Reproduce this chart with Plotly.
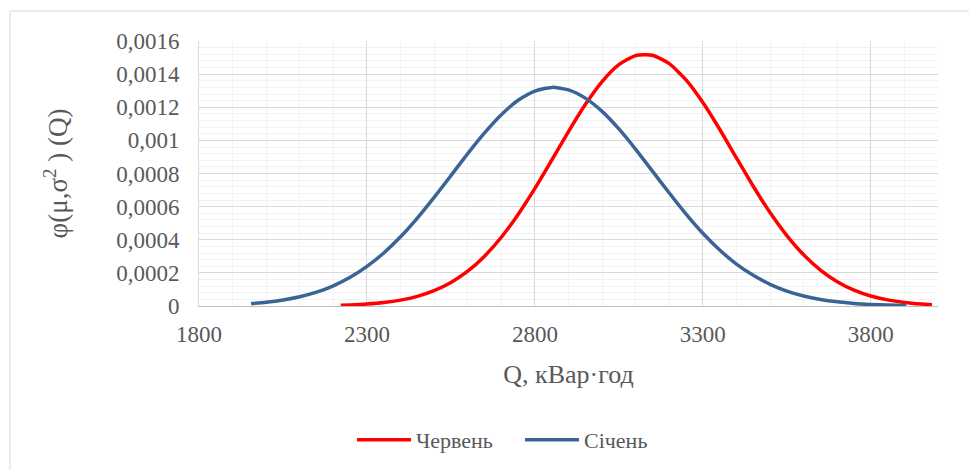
import plotly.graph_objects as go

# Червень (June) curve
red_q = [2222, 2250, 2300, 2350, 2400, 2450, 2500, 2550, 2600, 2650, 2700, 2750,
         2800, 2850, 2900, 2950, 3000, 3050, 3100, 3150, 3200, 3250, 3300, 3350,
         3400, 3450, 3500, 3550, 3600, 3650, 3700, 3750, 3800, 3850, 3900, 3950, 3982]
red_phi = [0.0000045, 0.0000064, 0.0000117, 0.0000207, 0.0000353, 0.0000582,
           0.0000925, 0.000142, 0.000210, 0.000301, 0.000415, 0.000553,
           0.000710, 0.000880, 0.001053, 0.001216, 0.001355, 0.001457,
           0.001512, 0.001514, 0.001463, 0.001365, 0.001228, 0.001067,
           0.000894, 0.000723, 0.000564, 0.000425, 0.000309, 0.000217,
           0.000147, 0.0000959, 0.0000604, 0.0000368, 0.0000216, 0.0000122, 0.0000083]

# Січень (January) curve
blue_q = [1955, 2000, 2050, 2100, 2150, 2200, 2250, 2300, 2350, 2400, 2450, 2500,
          2550, 2600, 2650, 2700, 2750, 2800, 2850, 2900, 2950, 3000, 3050, 3100,
          3150, 3200, 3250, 3300, 3350, 3400, 3450, 3500, 3550, 3600, 3650, 3700,
          3750, 3800, 3850, 3906]
blue_phi = [0.0000147, 0.0000227, 0.0000361, 0.0000556, 0.0000834, 0.000122,
            0.000173, 0.000239, 0.000320, 0.000418, 0.000531, 0.000656,
            0.000787, 0.000920, 0.001045, 0.001155, 0.001242, 0.001298,
            0.001320, 0.001305, 0.001255, 0.001175, 0.001069, 0.000946,
            0.000814, 0.000682, 0.000555, 0.000439, 0.000338, 0.000253,
            0.000185, 0.000131, 0.0000902, 0.0000605, 0.0000394, 0.0000250,
            0.0000154, 0.0000092, 0.0000054, 0.0000029]

y_tickvals = [0, 0.0002, 0.0004, 0.0006, 0.0008, 0.001, 0.0012, 0.0014, 0.0016]
y_ticktext = ["0", "0,0002", "0,0004", "0,0006", "0,0008", "0,001", "0,0012",
              "0,0014", "0,0016"]
x_tickvals = [1800, 2300, 2800, 3300, 3800]
x_ticktext = ["1800", "2300", "2800", "3300", "3800"]

FONT = "Liberation Serif"
GREY = "#595959"

# page body has an 8px offset; compensate in margins
ML, MT = 191, 33
PW, PH = 739, 265

fig = go.Figure()
fig.add_trace(go.Scatter(x=red_q, y=red_phi, mode="lines", name="Червень",
                         line=dict(color="#ff0000", width=3.5, shape="spline", smoothing=0.6)))
fig.add_trace(go.Scatter(x=blue_q, y=blue_phi, mode="lines", name="Січень",
                         line=dict(color="#3b6496", width=3.5, shape="spline", smoothing=0.6)))

fig.update_layout(
    width=977, height=470,
    margin=dict(l=ML, r=977 - ML - PW, t=MT, b=470 - MT - PH),
    paper_bgcolor="white", plot_bgcolor="white",
    font=dict(family=FONT, color=GREY, size=22),
    showlegend=True,
    legend=dict(orientation="h", x=(344 - ML) / PW, xanchor="left", y=-0.505, yanchor="middle",
                font=dict(family=FONT, size=22, color=GREY), itemwidth=54, entrywidth=99,
                bgcolor="rgba(0,0,0,0)"),
    xaxis=dict(range=[1800, 4000], tickvals=x_tickvals, ticktext=x_ticktext,
               ticks="outside", ticklen=7, tickcolor="rgba(0,0,0,0)",
               tickfont=dict(family=FONT, size=23, color=GREY),
               showgrid=True, gridcolor="#d9d9d9", gridwidth=1,
               minor=dict(dtick=100, tick0=1800, showgrid=True, gridcolor="#f2f2f2", gridwidth=1),
               showline=True, linecolor="#bfbfbf", linewidth=1, zeroline=False,
               title=dict(text="Q, кВар·год", font=dict(family=FONT, size=26, color=GREY), standoff=19)),
    yaxis=dict(range=[0, 0.0016], tickvals=y_tickvals, ticktext=y_ticktext,
               ticks="outside", ticklen=14, tickcolor="rgba(0,0,0,0)",
               tickfont=dict(family=FONT, size=23, color=GREY),
               showgrid=True, gridcolor="#d9d9d9", gridwidth=1,
               minor=dict(dtick=0.00004, tick0=0, showgrid=True, gridcolor="#f2f2f2", gridwidth=1),
               showline=True, linecolor="#d9d9d9", linewidth=1, zeroline=False,
               title=dict(text="φ(μ,σ<sup>2</sup> ) (Q)", font=dict(family=FONT, size=27, color=GREY), standoff=40)),
)

# outer chart-area border
fig.add_shape(type="rect", xref="paper", yref="paper",
              x0=(10 - 199) / PW, x1=(1000 - 199) / PW,
              y0=(306 - 490) / PH, y1=(306 - 11) / PH,
              line=dict(color="#d9d9d9", width=1), fillcolor="rgba(0,0,0,0)", layer="below")

fig.write_html("out.html")
